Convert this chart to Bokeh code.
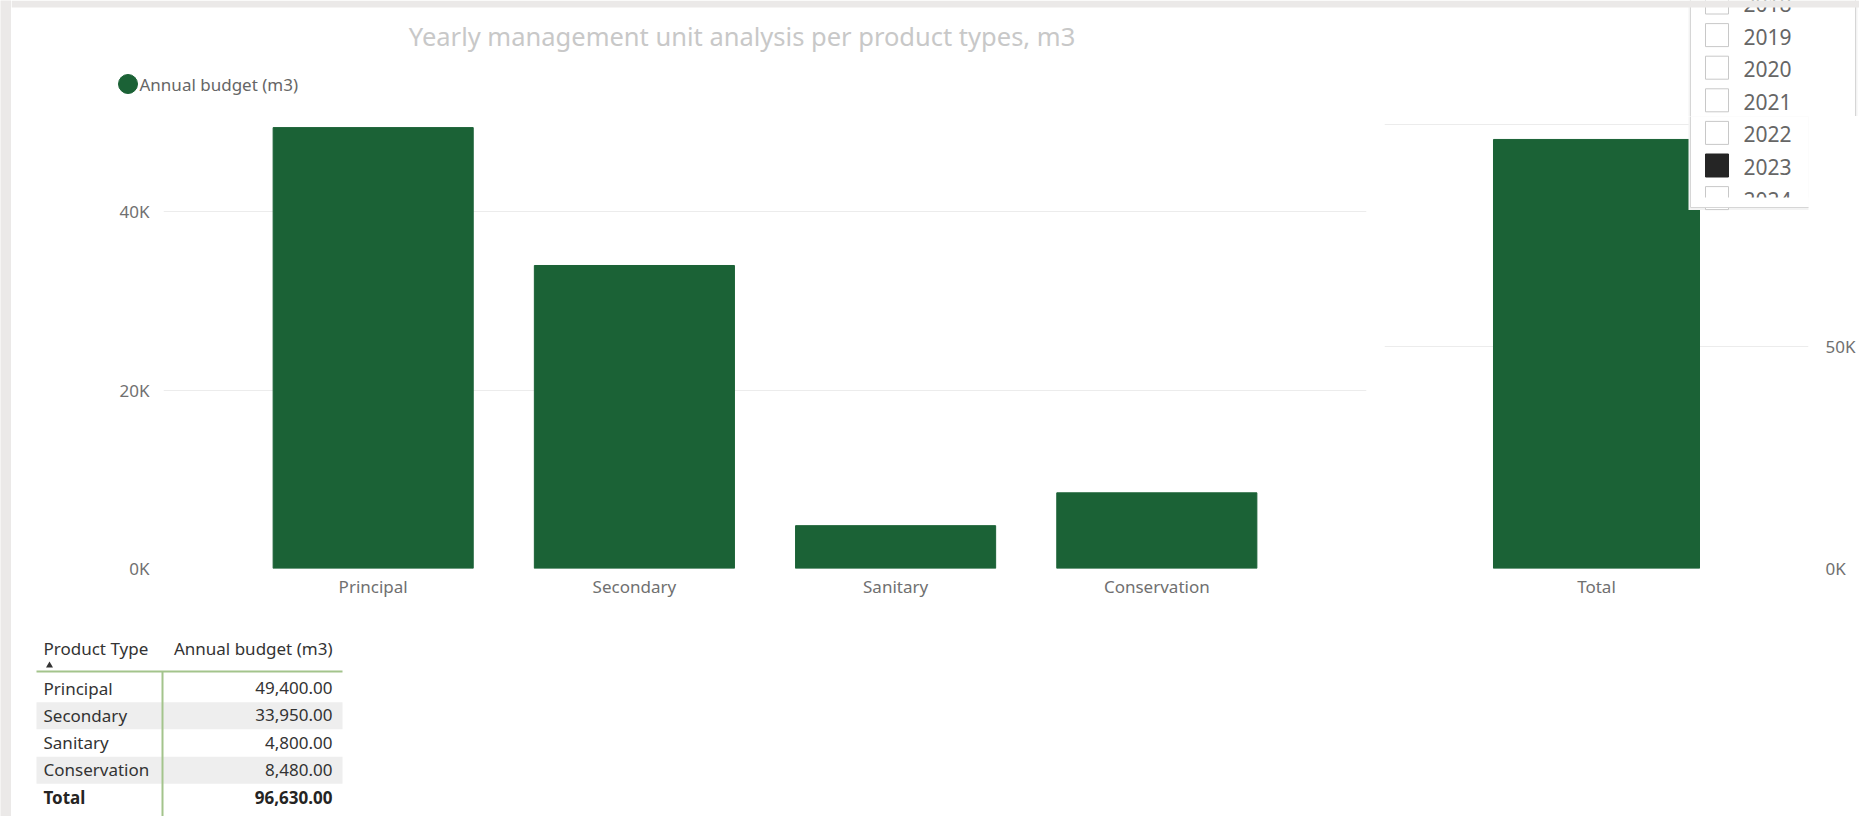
from bokeh.plotting import figure
from bokeh.models import FactorRange, Range1d, FixedTicker
from bokeh.layouts import row, column
from bokeh.embed import file_html
from bokeh.resources import INLINE
from bokeh.core.properties import value

# ---------------- data ----------------
chart_title = "Yearly management unit analysis per product types, m3"
series_name = "Annual budget (m3)"
categories = ["Principal", "Secondary", "Sanitary", "Conservation"]
budget = [49400, 33950, 4800, 8480]
total_category = ["Total"]
total_value = [sum(budget)]
left_ticks = [0, 20000, 40000]
left_tick_labels = ["0K", "20K", "40K"]
right_ticks = [0, 50000, 100000]
right_tick_labels = ["0K", "50K", "100K"]
covered_right_ticks = [100000]          # label sits under the year slicer popup
table_header = ["Product Type", "Annual budget (m3)"]
total_row_label = "Total"
years = ["2018", "2019", "2020", "2021", "2022", "2023", "2024"]
selected_year = "2023"

# ---------------- style / layout ----------------
GREEN = "#1b6236"
AXIS_TXT = "#707070"
GRID = "#ececec"
PAGE_GRAY = "#ebe9e8"
FONT = "Noto Sans"
STRIP = 11          # gray strip at the left
B = 116             # y where the header strip ends and the chart frames start
ROW_BOTTOM = 612    # bottom of chart row
FRAME_BOTTOM = 568
PAGE_W, PAGE_H = 1859, 816
SPLIT = 1378        # x where the right chart figure starts
R_FRAME_L, R_FRAME_R = 1384, 1808
R_PAD = 0.6466

def base_fig(**kw):
    p = figure(output_backend="svg", toolbar_location=None, **kw)
    p.outline_line_color = None
    p.background_fill_color = "white"
    p.border_fill_color = "white"
    return p

def style_axes(p):
    p.xgrid.grid_line_color = None
    p.ygrid.grid_line_color = GRID
    p.ygrid.grid_line_width = 1
    for ax in (p.xaxis[0], p.yaxis[0]):
        ax.axis_line_color = None
        ax.major_tick_out = 0
        ax.major_tick_in = 0
        ax.minor_tick_out = 0
        ax.minor_tick_in = 0
        ax.major_label_text_font = FONT
        ax.major_label_text_font_size = "17px"
        ax.major_label_text_color = AXIS_TXT
    p.xaxis.major_label_standoff = 6

ROW0, STEP = 2.0, 32.6
ROW_CY = [ROW0 + STEP * i for i in range(len(years))]

def draw_slicer(fig, part, fx=lambda v: v, **rn):
    X = lambda vals: [fx(v) for v in vals]
    fig.quad(left=X([1688]), right=X([1857]), top=[0], bottom=[209.5],
             fill_color="#f3f3f3", line_color=None, **rn)
    fig.quad(left=X([1690]), right=X([1855]), top=[0], bottom=[207],
             fill_color="white", line_color=None, **rn)
    # only the rows that fall into this figure's frame
    idx = [i for i, c in enumerate(ROW_CY) if (c < B) == (part == "top")]
    cys = [ROW_CY[i] for i in idx]
    yrs = [years[i] for i in idx]
    sel = [y == selected_year for y in yrs]
    fig.quad(left=X([1705] * len(yrs)), right=X([1728] * len(yrs)),
             top=[c - 11.5 for c in cys], bottom=[c + 11.5 for c in cys],
             fill_color=["#252525" if s else "white" for s in sel],
             line_color=["#252525" if s else "#c8c8c8" for s in sel],
             line_width=1, **rn)
    fig.text(x=X([1743] * len(yrs)), y=[c + 1.5 for c in cys], text=yrs,
             text_font=value(FONT), text_font_size="21px", text_color="#666666",
             text_baseline="middle", **rn)
    # the list is clipped inside the popup
    fig.quad(left=X([1691]), right=X([1854]), top=[197], bottom=[206.5],
             fill_color="white", line_color=None, **rn)
    fig.quad(left=X([1690]), right=X([1855]), top=[-2], bottom=[207],
             fill_alpha=0, line_color="#d6d6d6", line_width=1, **rn)

# ---------------- gray left strip ----------------
strip = base_fig(width=STRIP, height=PAGE_H, x_axis_type=None, y_axis_type=None,
                 min_border=0)
strip.background_fill_color = PAGE_GRAY
strip.border_fill_color = PAGE_GRAY

# ---------------- header strip (title, legend, top of slicer) ----------------
head = base_fig(width=PAGE_W - STRIP, height=B,
                x_range=Range1d(STRIP, PAGE_W), y_range=Range1d(B, 0),
                x_axis_type=None, y_axis_type=None,
                min_border_left=0, min_border_right=0,
                min_border_top=0, min_border_bottom=0)
head.grid.grid_line_color = None
head.text(x=[741.5], y=[35], text=[chart_title], text_font=value(FONT),
          text_font_size="25.5px", text_color="#c8c8c8", text_align="center",
          text_baseline="middle")
head.scatter(x=[127.5], y=[83.5], marker="circle", size=19,
             fill_color=GREEN, line_color=GREEN)
head.text(x=[139], y=[83.5], text=[series_name], text_font=value(FONT),
          text_font_size="17px", text_color="#666666", text_baseline="middle")
draw_slicer(head, "top")
head.quad(left=[STRIP], right=[PAGE_W], top=[0], bottom=[7],
          fill_color=PAGE_GRAY, line_color=None)

# ---------------- left chart ----------------
H = ROW_BOTTOM - B
p1 = base_fig(width=SPLIT - STRIP, height=H,
              x_range=FactorRange(*categories, range_padding=0.15135),
              y_range=Range1d(0, (FRAME_BOTTOM - B) / 178.5 * 20000),
              min_border_left=163 - STRIP, min_border_right=12,
              min_border_top=0, min_border_bottom=ROW_BOTTOM - FRAME_BOTTOM)
p1.vbar(x=categories, top=budget, width=0.766, fill_color=GREEN, line_color=GREEN)
style_axes(p1)
p1.yaxis.ticker = FixedTicker(ticks=left_ticks)
p1.yaxis.major_label_overrides = dict(zip(left_ticks, left_tick_labels))
p1.yaxis.major_label_standoff = 14

# ---------------- right chart ----------------
p2 = base_fig(width=PAGE_W - SPLIT, height=H, y_axis_location="right",
              x_range=FactorRange(*total_category, range_padding=R_PAD),
              y_range=Range1d(0, (FRAME_BOTTOM - B) / 222.0 * 50000),
              min_border_left=R_FRAME_L - SPLIT, min_border_right=PAGE_W - R_FRAME_R,
              min_border_top=0, min_border_bottom=ROW_BOTTOM - FRAME_BOTTOM)
p2.vbar(x=total_category, top=total_value, width=0.8, fill_color=GREEN, line_color=GREEN)
style_axes(p2)
p2.yaxis.ticker = FixedTicker(ticks=right_ticks)
p2.yaxis.major_label_overrides = {t: ("" if t in covered_right_ticks else lab)
                                  for t, lab in zip(right_ticks, right_tick_labels)}
p2.yaxis.major_label_standoff = 17
# lower part of the slicer popup, drawn in page pixels on top of the right chart
p2.extra_y_ranges = {"py": Range1d(FRAME_BOTTOM, B)}
n_tot = len(total_category)
syn0 = -n_tot * R_PAD / 2
syn_span = n_tot * (1 + R_PAD)
to_syn = lambda px: syn0 + (px - R_FRAME_L) * syn_span / (R_FRAME_R - R_FRAME_L)
draw_slicer(p2, "bottom", fx=to_syn, y_range_name="py")

# ---------------- table ----------------
p3 = base_fig(width=400 - STRIP, height=PAGE_H - ROW_BOTTOM,
              x_range=Range1d(STRIP, 400), y_range=Range1d(PAGE_H, ROW_BOTTOM),
              x_axis_type=None, y_axis_type=None,
              min_border_left=0, min_border_right=0, min_border_top=0, min_border_bottom=0)
p3.grid.grid_line_color = None

row_names = categories + [total_row_label]
row_vals = [f"{v:,.2f}" for v in budget] + [f"{sum(budget):,.2f}"]
row_c = [688 + 27.25 * i for i in range(len(row_names))]
band_rows = [i for i in range(len(categories)) if i % 2 == 1]
p3.quad(left=36, right=342,
        top=[row_c[i] - 13.6 for i in band_rows],
        bottom=[row_c[i] + 13.6 for i in band_rows],
        fill_color="#eeeeee", line_color=None)
p3.segment(x0=[36, 162], y0=[671, 671], x1=[342, 162], y1=[671, 820],
           line_color="#a3c48c", line_width=2)
TXT = dict(text_font=value(FONT), text_font_size="17px", text_baseline="middle")
p3.text(x=[43], y=[647.5], text=[table_header[0]], text_color="#333333", **TXT)
p3.text(x=[332], y=[647.5], text=[table_header[1]], text_color="#333333",
        text_align="right", **TXT)
p3.scatter(x=[49], y=[665], marker="triangle", size=7, fill_color="#333333",
           line_color=None)
n = len(categories)
p3.text(x=[43] * n, y=[c - 0.5 for c in row_c[:n]], text=row_names[:n],
        text_color="#333333", **TXT)
p3.text(x=[332] * n, y=[c - 0.5 for c in row_c[:n]], text=row_vals[:n],
        text_color="#333333", text_align="right", **TXT)
p3.text(x=[43], y=[row_c[-1] - 0.5], text=[row_names[-1]], text_font_style="bold",
        text_color="#252423", **TXT)
p3.text(x=[332], y=[row_c[-1] - 0.5], text=[row_vals[-1]], text_font_style="bold",
        text_color="#252423", text_align="right", **TXT)

layout = row(strip, column(head, row(p1, p2), p3))
open("out.html", "w").write(file_html(layout, INLINE))
